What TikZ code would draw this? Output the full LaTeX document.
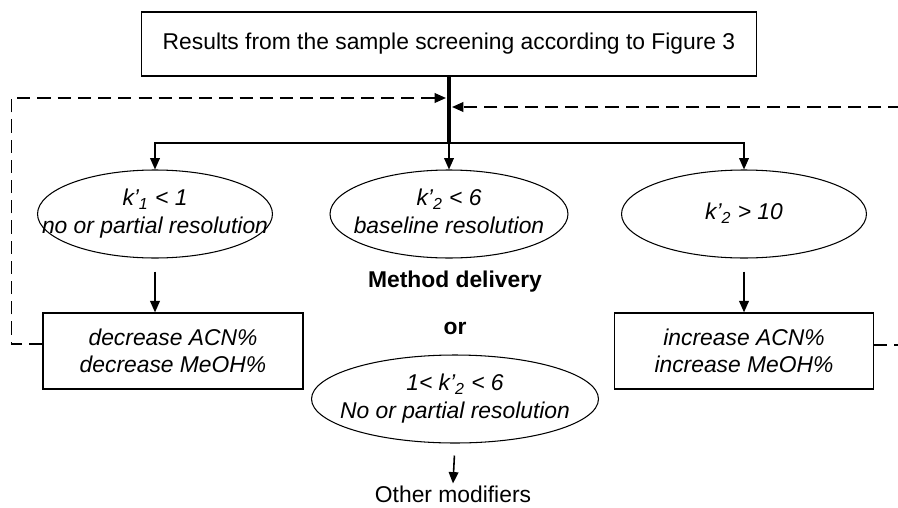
\documentclass[tikz,border=0pt]{standalone}
\usepackage{fontspec}
\setmainfont{Liberation Sans}
\usepackage{tikz}
\usetikzlibrary{positioning,arrows.meta,shapes.geometric,calc}
\newcommand{\condtext}[1]{\makebox[0pt]{\begin{tabular}{@{}c@{}}#1\end{tabular}}}
\tikzset{
    base font/.style={font=\fontsize{13}{15}\selectfont},
    result box/.style={rectangle, draw, line width=0.7pt, base font, minimum width=12.3cm, minimum height=1.28cm},
    condition/.style={ellipse, draw, line width=0.6pt, inner sep=0pt, minimum height=1.76cm, font=\fontsize{13}{15.5}\selectfont\itshape},
    action box/.style={rectangle, draw, line width=0.7pt, minimum width=5.2cm, minimum height=1.52cm, align=center, font=\fontsize{13}{15.5}\selectfont\itshape},
    plain label/.style={base font, inner sep=1pt},
    bold label/.style={font=\fontsize{13}{15}\selectfont\bfseries},
    flow/.style={-{Triangle[length=6.5pt,width=5.5pt]}, line width=0.9pt},
    trunk/.style={line width=2.8pt},
    feedback/.style={-{Triangle[length=6.5pt,width=5.5pt]}, line width=1pt, dash pattern=on 7.5pt off 4pt}
}

\begin{document}
\begin{tikzpicture}[x=0.02cm, y=-0.02cm]
    \useasboundingbox (0,0) rectangle (898,507);

    % Screening results
    \node[result box] (res) at (449,44) {Results from the sample screening according to Figure 3};
    \coordinate (split) at (449,143);
    \coordinate (inl) at (446,98);
    \coordinate (inr) at (452,107);

    % Retention conditions
    \node[condition, minimum width=4.7cm] (l1) at (155,214) {\condtext{k’\textsubscript{1} < 1\\no or partial resolution}};
    \node[condition, minimum width=4.76cm] (m1) at (449,214) {\condtext{k’\textsubscript{2} < 6\\baseline resolution}};
    \node[condition, minimum width=4.9cm] (r1) at (744,214) {\condtext{k’\textsubscript{2} > 10}};

    % Middle column
    \node[bold label] (deliv) at (455,282) {Method delivery};
    \node[bold label] (or) at (455,328) {or};
    \node[condition, minimum width=5.74cm] (b1) at (455,399) {\condtext{1< k’\textsubscript{2} < 6\\No or partial resolution}};
    \node[plain label] (other) at (453,494) {Other modifiers};

    % Mobile phase changes
    \node[action box] (dec) at (173,351) {decrease ACN\%\\decrease MeOH\%};
    \node[action box, minimum width=5.18cm] (inc) at (744,351) {increase ACN\%\\increase MeOH\%};

    % Branching from the results
    \draw[trunk] (res.south) -- (split);
    \draw[flow] (split) -| (l1.north);
    \draw[flow] (split) -- (m1.north);
    \draw[flow] (split) -| (r1.north);

    % Down to the actions
    \draw[flow, shorten <=0.26cm] (l1.south) -- (l1.south |- dec.north);
    \draw[flow, shorten <=0.26cm] (r1.south) -- (r1.south |- inc.north);
    \draw[flow, shorten <=0.24cm] (b1.south) -- (other.north);

    % Feedback loops
    \draw[feedback] ([yshift=0.14cm]dec.west) -- ++(-31,0) |- (inl);
    \draw[feedback] ([yshift=0.12cm]inc.east) -- ++(26,0) |- (inr);
\end{tikzpicture}
\end{document}
